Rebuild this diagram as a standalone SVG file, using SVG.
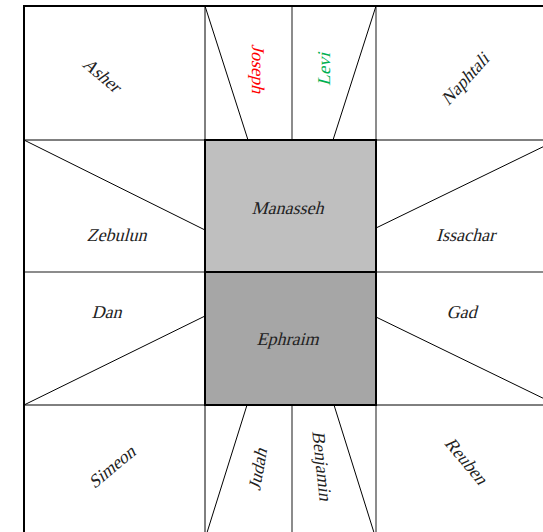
<svg xmlns="http://www.w3.org/2000/svg" width="543" height="532" viewBox="0 0 543 532">
<style>
text{font-size:18px;fill:#222;text-anchor:middle;dominant-baseline:central}
.k{stroke:#000;stroke-width:1;fill:none}
.g{stroke:#666;stroke-width:1.5;fill:none}
</style>
<rect width="543" height="532" fill="#fff"/>
<g id="connectors">
<line class="k" x1="24" y1="140" x2="205" y2="140"/>
<line class="k" x1="376" y1="140" x2="557" y2="140"/>
<line class="k" x1="24" y1="405" x2="205" y2="405"/>
<line class="k" x1="376" y1="405" x2="557" y2="405"/>
<line class="g" x1="24" y1="272" x2="205" y2="272"/>
<line class="g" x1="376" y1="272" x2="557" y2="272"/>
<line class="k" x1="205" y1="6" x2="205" y2="140"/>
<line class="g" x1="376" y1="6" x2="376" y2="140"/>
<line class="g" x1="292" y1="6" x2="292" y2="140"/>
<line class="k" x1="205" y1="405" x2="205" y2="540"/>
<line class="g" x1="376" y1="405" x2="376" y2="540"/>
<line class="g" x1="292" y1="405" x2="292" y2="540"/>
<line class="k" x1="205" y1="6" x2="248" y2="140"/>
<line class="k" x1="376" y1="6" x2="333" y2="140"/>
<line class="k" x1="247" y1="405" x2="205" y2="539"/>
<line class="k" x1="334" y1="405" x2="376" y2="539"/>
<line class="k" x1="24" y1="140" x2="205" y2="230"/>
<line class="k" x1="24" y1="405" x2="205" y2="316"/>
<line class="k" x1="376" y1="228" x2="557" y2="140"/>
<line class="k" x1="376" y1="317" x2="557" y2="405"/>
</g>
<g id="frame"><rect x="24" y="6" width="533" height="533" fill="none" stroke="#000" stroke-width="2"/></g>
<g font-family="Liberation Serif" font-style="normal">
<g id="manasseh"><rect x="205" y="140" width="171" height="132" fill="#bfbfbf" stroke="#000" stroke-width="2"/><text transform="translate(289,208) skewX(-15)">Manasseh</text></g>
<g id="ephraim"><rect x="205" y="272" width="171" height="133" fill="#a6a6a6" stroke="#000" stroke-width="2"/><text transform="translate(289,339) skewX(-15)">Ephraim</text></g>
<g id="asher"><text transform="translate(103,76) rotate(40) skewX(-15)">Asher</text></g>
<g id="joseph"><text style="fill:#ff0000" transform="translate(258,70) rotate(90) skewX(-15)">Joseph</text></g>
<g id="levi"><text style="fill:#00b050" transform="translate(324,68) rotate(-90) skewX(-15)">Levi</text></g>
<g id="naphtali"><text transform="translate(466,78) rotate(-48) skewX(-15)">Naphtali</text></g>
<g id="zebulun"><text transform="translate(118,235) skewX(-15)">Zebulun</text></g>
<g id="issachar"><text transform="translate(467,235) skewX(-15)">Issachar</text></g>
<g id="dan"><text transform="translate(108,312) skewX(-15)">Dan</text></g>
<g id="gad"><text transform="translate(463,312) skewX(-15)">Gad</text></g>
<g id="simeon"><text transform="translate(113,466) rotate(-40) skewX(-15)">Simeon</text></g>
<g id="judah"><text transform="translate(258,468) rotate(-80) skewX(-15)">Judah</text></g>
<g id="benjamin"><text transform="translate(322,467) rotate(84) skewX(-15)">Benjamin</text></g>
<g id="reuben"><text transform="translate(467,462) rotate(50) skewX(-15)">Reuben</text></g>
</g>
</svg>
